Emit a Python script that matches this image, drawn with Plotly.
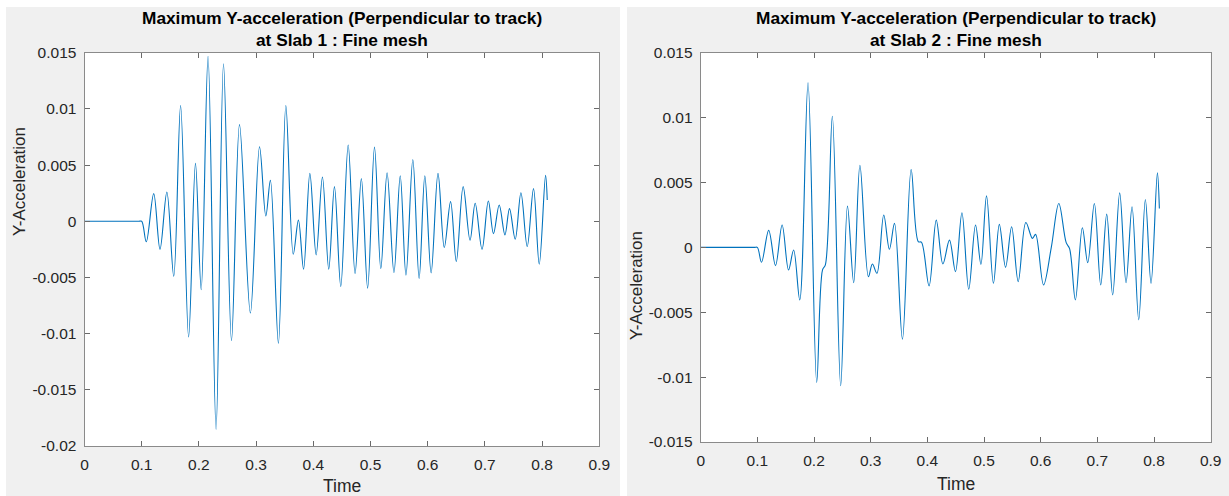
import plotly.graph_objects as go

# ---- Data ----
slab1_time = [0.0, 0.030, 0.060, 0.085, 0.095, 0.100, 0.108, 0.121, 0.132, 0.144, 0.156, 0.168, 0.182, 0.194, 0.204,
              0.216, 0.230, 0.243, 0.257, 0.271, 0.290, 0.306, 0.317, 0.325, 0.339,
              0.352, 0.365, 0.374, 0.383, 0.394, 0.405, 0.416, 0.427, 0.437, 0.448,
              0.461, 0.473, 0.484, 0.495, 0.507, 0.518, 0.529, 0.541, 0.552, 0.562,
              0.574, 0.585, 0.595, 0.606, 0.618, 0.629, 0.640, 0.650, 0.662, 0.674,
              0.683, 0.695, 0.706, 0.715, 0.725, 0.735, 0.743, 0.753, 0.763, 0.774,
              0.785, 0.795, 0.806, 0.809]
slab1_acc = [0.0, 0.0, 0.0, 0.0, 0.0, 0.0, -0.00183, 0.00246, -0.00249, 0.0026, -0.0049, 0.0103, -0.0103, 0.00515, -0.0061,
             0.01468, -0.01852, 0.01402, -0.01062, 0.0086, -0.00817, 0.00663, 0.00047, 0.00364, -0.01086,
             0.0103, -0.00293, 0.0001, -0.00426, 0.00426, -0.00299, 0.00394, -0.00426, 0.00308, -0.0058,
             0.00678, -0.00464, 0.00379, -0.00595, 0.0066, -0.00423, 0.00432, -0.00456, 0.00405, -0.00479,
             0.0055, -0.00509, 0.00405, -0.00459, 0.00426, -0.00234, 0.00175, -0.00358, 0.00308, -0.00169,
             0.0016, -0.00249, 0.0018, -0.0011, 0.00145, -0.00121, 0.00112, -0.0016, 0.00254, -0.00225,
             0.0029, -0.00382, 0.00408, 0.00189]

slab2_time = [0.0, 0.030, 0.060, 0.085, 0.095, 0.100, 0.1073, 0.120, 0.132, 0.1437, 0.155, 0.164, 0.1748, 0.1894, 0.2047,
              0.215, 0.220, 0.2323, 0.247, 0.259, 0.270, 0.281, 0.296, 0.303, 0.311,
              0.323, 0.333, 0.342, 0.356, 0.3714, 0.384, 0.3895, 0.403, 0.4157, 0.4274,
              0.439, 0.4496, 0.461, 0.473, 0.485, 0.4945, 0.5044, 0.5166, 0.527, 0.538,
              0.5487, 0.5603, 0.5738, 0.5854, 0.591, 0.605, 0.6187, 0.632, 0.645, 0.651,
              0.6612, 0.6735, 0.683, 0.6947, 0.7059, 0.7165, 0.727, 0.7394, 0.7506, 0.7612,
              0.773, 0.7847, 0.7947, 0.8059, 0.8094]
slab2_acc = [0.0, 0.0, 0.0, 0.0, 0.0, 0.0, -0.00115, 0.00131, -0.00141, 0.00172, -0.00174, -0.0002, -0.00405, 0.01269, -0.01041,
             -0.00174, -0.00135, 0.0101, -0.01067, 0.00318, -0.00272, 0.00633, -0.00226, -0.00128, -0.002,
             0.00249, -0.00015, 0.00185, -0.00708, 0.006, 0.00044, 0.0004, -0.00297, 0.0021, -0.00128,
             0.00056, -0.00187, 0.00267, -0.00323, 0.00172, -0.00131, 0.00397, -0.00277, 0.00177, -0.00154,
             0.00159, -0.00264, 0.00192, 0.00069, 0.001, -0.0029, 0.0, 0.00338, 0.00036, -0.0001,
             -0.00405, 0.00151, -0.00118, 0.00338, -0.0029, 0.00256, -0.00367, 0.0042, -0.00272, 0.00313,
             -0.00559, 0.00369, -0.00277, 0.00574, 0.003]

x_ticks = [0, 0.1, 0.2, 0.3, 0.4, 0.5, 0.6, 0.7, 0.8, 0.9]
x_ticktext = ["0", "0.1", "0.2", "0.3", "0.4", "0.5", "0.6", "0.7", "0.8", "0.9"]
y1_ticks = [-0.02, -0.015, -0.01, -0.005, 0, 0.005, 0.01, 0.015]
y1_ticktext = ["-0.02", "-0.015", "-0.01", "-0.005", "0", "0.005", "0.01", "0.015"]
y2_ticks = [-0.015, -0.01, -0.005, 0, 0.005, 0.01, 0.015]
y2_ticktext = ["-0.015", "-0.01", "-0.005", "0", "0.005", "0.01", "0.015"]

title_line1 = "Maximum Y-acceleration (Perpendicular to track)"
title1_line2 = "at Slab 1 : Fine mesh"
title2_line2 = "at Slab 2 : Fine mesh"

W, H = 1229, 496
LINE = "#0072BD"
FONT = "Liberation Sans, Arial, Helvetica, sans-serif"

def px(x):
    return x / W

def py(y):
    return 1 - y / H

fig = go.Figure()
fig.add_trace(go.Scatter(x=slab1_time, y=slab1_acc, mode="lines", line=dict(color=LINE, width=1.1, shape="spline"),
                         xaxis="x", yaxis="y", showlegend=False))
fig.add_trace(go.Scatter(x=slab2_time, y=slab2_acc, mode="lines", line=dict(color=LINE, width=1.1, shape="spline"),
                         xaxis="x2", yaxis="y2", showlegend=False))

axis_common = dict(showline=True, linecolor="#8a8a8a", linewidth=1, mirror="ticks", ticks="inside",
                   ticklen=5, tickcolor="#6a6a6a", tickwidth=1, showgrid=False, zeroline=False,
                   tickfont=dict(family=FONT, size=15.5, color="#262626"), automargin=False,
                   fixedrange=True)

fig.update_layout(
    width=W, height=H,
    margin=dict(l=0, r=0, t=0, b=0),
    paper_bgcolor="#f0f0f0",
    plot_bgcolor="white",
    font=dict(family=FONT, color="#262626"),
    xaxis=dict(domain=[px(84.5), px(599.3)], range=[0, 0.9], tickvals=x_ticks, ticktext=x_ticktext,
               anchor="y", ticklabelstandoff=4, **axis_common),
    yaxis=dict(domain=[py(446), py(52.7)], range=[-0.02, 0.015], tickvals=y1_ticks, ticktext=y1_ticktext,
               anchor="x", ticklabelstandoff=4, **axis_common),
    xaxis2=dict(domain=[px(700.7), px(1210.7)], range=[0, 0.9], tickvals=x_ticks, ticktext=x_ticktext,
                anchor="y2", ticklabelstandoff=4, **axis_common),
    yaxis2=dict(domain=[py(442), py(52.7)], range=[-0.015, 0.015], tickvals=y2_ticks, ticktext=y2_ticktext,
                anchor="x2", ticklabelstandoff=4, **axis_common),
)

# white gaps between the two figure panels
for x0, x1, y0, y1 in [(0, 6, 0, H), (620, 627, 0, H), (0, W, 0, 7)]:
    fig.add_shape(type="rect", xref="paper", yref="paper", x0=px(x0), x1=px(x1), y0=py(y1), y1=py(y0),
                  fillcolor="white", line=dict(width=0), layer="below")

def ann(text, x, y, size, bold=False, angle=0, color="#262626"):
    fig.add_annotation(text=("<b>%s</b>" % text) if bold else text, x=px(x), y=py(y), xref="paper",
                       yref="paper", xanchor="center", yanchor="middle", showarrow=False, textangle=angle,
                       font=dict(family=FONT, size=size, color=color))

# titles
ann(title_line1, 342, 18, 17.3, bold=True, color="black")
ann(title1_line2, 342, 40, 17.3, bold=True, color="black")
ann(title_line1, 955.7, 18, 17.3, bold=True, color="black")
ann(title2_line2, 955.7, 40, 17.3, bold=True, color="black")
# axis labels
ann("Time", 342, 486, 17.5)
ann("Time", 955.7, 484, 17.5)
ann("Y-Acceleration", 19, 182, 17, angle=-90)
ann("Y-Acceleration", 636, 286, 17, angle=-90)

fig.write_html("out.html")
